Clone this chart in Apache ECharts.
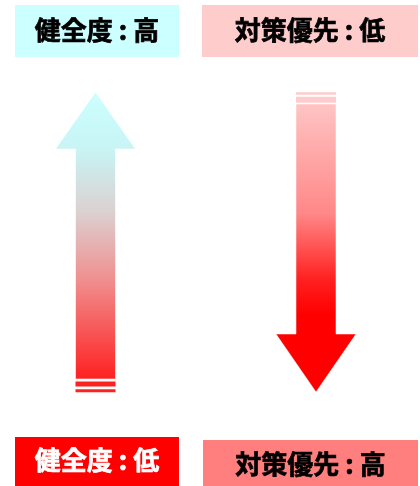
<!DOCTYPE html>
<html><head><meta charset="utf-8">
<script src="https://cdn.jsdelivr.net/npm/echarts@6/dist/echarts.min.js"></script>
<style>html,body{margin:0;padding:0;background:#fff}#c{width:420px;height:486px}</style>
</head><body><div id="c"></div>
<script>
var topLabels = ['健全度 : 高', '対策優先 : 低'];
var bottomLabels = ['健全度 : 低', '対策優先 : 高'];
var font = '"Noto Sans CJK JP", sans-serif';

function box(x, y, w, h, fill, text, color, dy) {
  return {
    type: 'rect', shape: {x: x, y: y, width: w, height: h},
    style: {fill: fill},
    textContent: {style: {text: text, fill: color, font: 'bold 26px ' + font,
      stroke: color, lineWidth: 0.7}},
    textConfig: {position: 'inside', offset: [0, dy || 0]}
  };
}
var chart = echarts.init(document.getElementById('c'), null, {renderer: 'canvas'});
chart.setOption({
  animation: false,
  graphic: [
    box(15, 5, 164, 52, '#ccffff', topLabels[0], '#000', -1),
    box(202, 5, 216, 52, '#ffcccc', topLabels[1], '#000', -1),
    box(15, 437, 164, 49, '#ff0000', bottomLabels[0], '#fff', -1),
    box(203, 440, 215, 46, '#ff7f7f', bottomLabels[1], '#000', 1),
    {
      type: 'polygon',
      shape: {points: [[95.5,92],[135.5,149],[115.5,149],[115.5,379],[75.5,379],[75.5,149],[55.5,149]]},
      style: {
        fill: new echarts.graphic.LinearGradient(0, 0, 0, 1, [
          {offset: 0, color: '#ccffff'},
          {offset: 0.2, color: '#c8f4f4'},
          {offset: 0.42, color: '#dcd0d0'},
          {offset: 0.65, color: '#f09090'},
          {offset: 1, color: '#ff2020'}
        ]),
        stroke: 'rgba(255,255,255,0.6)', lineWidth: 1
      }
    },
    {type: 'rect', shape: {x: 75.5, y: 381.5, width: 40, height: 5}, style: {fill: '#ff2020'}},
    {type: 'rect', shape: {x: 75.5, y: 389.3, width: 40, height: 3}, style: {fill: '#ff2020'}},
    {type: 'rect', shape: {x: 296, y: 92.3, width: 40, height: 2.4}, style: {fill: '#ffcccc'}},
    {type: 'rect', shape: {x: 296, y: 96.7, width: 40, height: 6}, style: {fill: '#ffcccc'}},
    {
      type: 'polygon',
      shape: {points: [[296,104],[336,104],[336,334],[356,334],[316,392],[276,334],[296,334]]},
      style: {
        fill: new echarts.graphic.LinearGradient(0, 0, 0, 1, [
          {offset: 0, color: '#ffc4c4'},
          {offset: 0.38, color: '#ff8888'},
          {offset: 0.61, color: '#ff2020'},
          {offset: 0.73, color: '#ff0000'},
          {offset: 1, color: '#ff0000'}
        ]),
        stroke: 'rgba(255,255,255,0.5)', lineWidth: 1
      }
    }
  ]
});
</script></body></html>
